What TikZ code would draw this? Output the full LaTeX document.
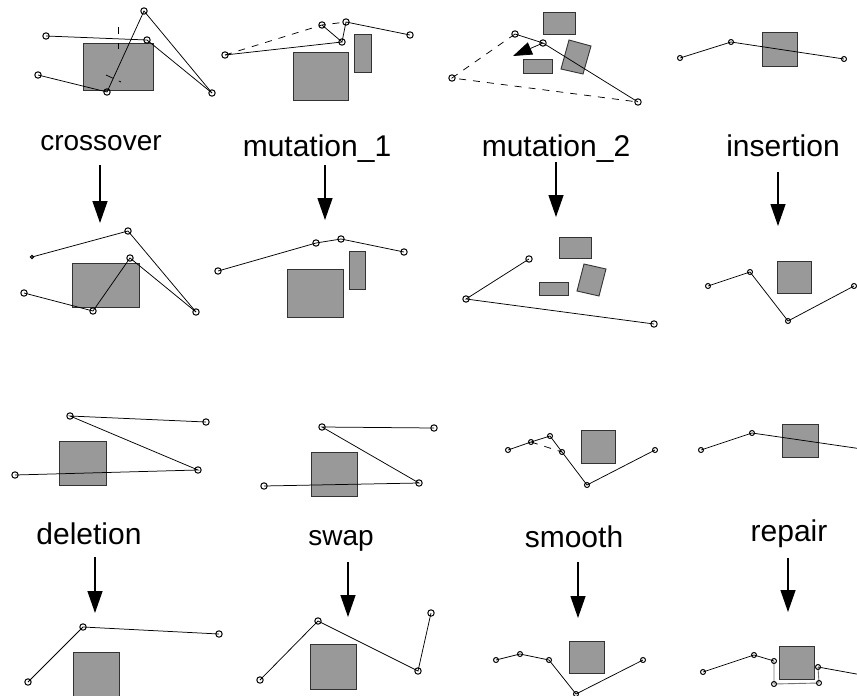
\documentclass[tikz,border=0pt]{standalone}
\usepackage{fontspec}
\setmainfont{Liberation Sans}
\usetikzlibrary{arrows.meta}

\begin{document}
\begin{tikzpicture}[x=1pt, y=-1pt,
  box/.style = {draw=black!80, fill=black!40, line width=0.9pt},
  path/.style = {line width=0.75pt},
  ring/.style = {line width=1pt},
  old/.style = {line width=0.75pt, dash pattern=on 7pt off 7pt},
  cut/.style = {line width=0.9pt, black!55},
  op/.style = {font=\fontsize{30}{30}\selectfont, anchor=base},
  down/.style = {line width=1.3pt, -{Triangle[length=22pt, width=15pt]}}]
\useasboundingbox (0,0) rectangle (857,696);
% crossover (before)
\coordinate (cA) at (46,36);
\coordinate (cB) at (147,40);
\coordinate (cC) at (144,11);
\coordinate (cD) at (38,75);
\coordinate (cE) at (107,92);
\coordinate (cF) at (212,93);
\draw[box] (83,43) rectangle (153,90);
\draw[path] (cA)--(cB)--(cF);
\draw[path] (cD)--(cE)--(cC)--(cF);
\draw[path, dash pattern=on 7pt off 9pt] (118,27)--(118,49);
\draw[path, dash pattern=on 8pt off 6pt] (106,75)--(121,82);
% mutation_1 (before)
\coordinate (mA) at (225,55);
\coordinate (mB) at (342,42);
\coordinate (mC) at (322,25);
\coordinate (mD) at (346,22);
\coordinate (mE) at (410,35);
\draw[box] (293,52) rectangle (348,100);
\draw[box] (354,34) rectangle (371,72);
\draw[old] (mA)--(mC)--(mD);
\draw[path] (mA)--(mB);
\draw[path] (mC)--(mB)--(mD)--(mE);
% mutation_2 (before)
\coordinate (nA) at (515,34);
\coordinate (nB) at (543,43);
\coordinate (nC) at (452,78);
\coordinate (nD) at (638,102);
\coordinate (nT) at (513,56);
\draw[box] (543,12) rectangle (575,34);
\draw[box] (523,59) rectangle (552,73);
\draw[box] (569,40)--(591,46)--(583,74)--(561,69)--cycle;
\draw[old] (nA)--(nC)--(nD);
\draw[path] (nA)--(nB)--(nD);
\draw[path, -{Triangle[length=19pt, width=13pt]}] (nB)--(nT);
% insertion (before)
\coordinate (iA) at (680,58);
\coordinate (iB) at (731,42);
\coordinate (iC) at (844,59);
\draw[box] (762,32) rectangle (797,66);
\draw[path] (iA)--(iB)--(iC);
% crossover (after)
\coordinate (dA) at (32,257);
\coordinate (dB) at (128,231);
\coordinate (dC) at (24,293);
\coordinate (dD) at (93,311);
\coordinate (dE) at (130,258);
\coordinate (dF) at (196,312);
\draw[box] (72,263) rectangle (139,307);
\draw[path] (dA)--(dB)--(dF);
\draw[path] (dC)--(dD)--(dE)--(dF);
% mutation_1 (after)
\coordinate (eA) at (218,271);
\coordinate (eB) at (316,243);
\coordinate (eC) at (341,239);
\coordinate (eD) at (404,252);
\draw[box] (287,269) rectangle (343,317);
\draw[box] (349,251) rectangle (365,289);
\draw[path] (eA)--(eB)--(eC)--(eD);
% mutation_2 (after)
\coordinate (fA) at (529,259);
\coordinate (fB) at (466,299);
\coordinate (fC) at (654,324);
\draw[box] (559,237) rectangle (591,258);
\draw[box] (539,282) rectangle (568,295);
\draw[box] (584,264)--(606,269)--(599,296)--(577,291)--cycle;
\draw[path] (fA)--(fB)--(fC);
% insertion (after)
\coordinate (gA) at (708,286);
\coordinate (gB) at (750,272);
\coordinate (gC) at (788,321);
\coordinate (gD) at (854,286);
\draw[box] (777,261) rectangle (811,293);
\draw[path] (gA)--(gB)--(gC)--(gD);
% deletion (before)
\coordinate (hA) at (70,416);
\coordinate (hB) at (206,422);
\coordinate (hC) at (198,470);
\coordinate (hD) at (15,475);
\draw[box] (59,441) rectangle (106,485);
\draw[path] (hB)--(hA)--(hC)--(hD);
% swap (before)
\coordinate (sA) at (322,427);
\coordinate (sB) at (434,428);
\coordinate (sC) at (419,483);
\coordinate (sD) at (264,486);
\draw[box] (311,452) rectangle (357,496);
\draw[path] (sB)--(sA)--(sC)--(sD);
% smooth (before)
\coordinate (tA) at (508,450);
\coordinate (tB) at (531,442);
\coordinate (tC) at (550,436);
\coordinate (tD) at (562,452);
\coordinate (tE) at (587,485);
\coordinate (tF) at (655,450);
\draw[box] (581,430) rectangle (615,463);
\draw[old] (tB)--(tD);
\draw[path] (tA)--(tB)--(tC)--(tD)--(tE)--(tF);
% repair (before)
\coordinate (uA) at (701,450);
\coordinate (uB) at (752,433);
\coordinate (uC) at (862,449);
\draw[box] (782,424) rectangle (818,457);
\draw[path] (uA)--(uB)--(uC);
% deletion (after)
\coordinate (vA) at (28,682);
\coordinate (vB) at (83,627);
\coordinate (vC) at (219,634);
\draw[box] (73,652) rectangle (119,702);
\draw[path] (vA)--(vB)--(vC);
% swap (after)
\coordinate (wA) at (260,680);
\coordinate (wB) at (318,621);
\coordinate (wC) at (418,671);
\coordinate (wD) at (431,613);
\draw[box] (310,644) rectangle (356,689);
\draw[path] (wA)--(wB)--(wC)--(wD);
% smooth (after)
\coordinate (xA) at (496,660);
\coordinate (xB) at (520,654);
\coordinate (xC) at (549,660);
\coordinate (xD) at (576,694);
\coordinate (xE) at (643,660);
\draw[box] (569,641) rectangle (604,673);
\draw[path] (xA)--(xB)--(xC)--(xD)--(xE);
% repair (after)
\coordinate (yA) at (703,672);
\coordinate (yB) at (754,655);
\coordinate (yC) at (774,661);
\coordinate (yD) at (774,684);
\coordinate (yE) at (819,683);
\coordinate (yF) at (818,667);
\coordinate (yG) at (862,675);
\draw[box] (779,646) rectangle (814,679);
\draw[cut] (yC)--(yD)--(yE)--(yF);
\draw[path] (yA)--(yB)--(yC);
\draw[path] (yF)--(yG);
% vertices
\foreach \p in {cA,cB,cC,cD,cE,cF,mA,mB,mC,mD,mE,nA,nB,nC,nD,dB,dC,dD,dE,dF,
  eA,eB,eC,eD,fA,fB,fC,hA,hB,hC,hD,sA,sB,sC,sD,vA,vB,vC,wA,wB,wC,wD}
  \draw[ring] (\p) circle (3.2);
\foreach \p in {iA,iB,iC,gA,gB,gC,gD,tA,tB,tC,tD,tE,tF,uA,uB,xA,xB,xC,xD,xE,
  yA,yB,yC,yD,yE,yF}
  \draw[ring] (\p) circle (2.5);
\draw[ring] (dA) circle (1.6);
% operator names and arrows
\node[op, font=\fontsize{28}{28}\selectfont] (crossover) at (101,150) {crossover};
\node[op] (mut1) at (317,156) {mutation\_1};
\node[op] (mut2) at (556,156) {mutation\_2};
\node[op] (insertion) at (783,156) {insertion};
\node[op] (deletion) at (89,544) {deletion};
\node[op, font=\fontsize{28}{28}\selectfont] (swap) at (341,545) {swap};
\node[op] (smooth) at (574,547) {smooth};
\node[op] (repair) at (789,541) {repair};
\coordinate (b1) at (100,165);
\coordinate (b2) at (325,165);
\coordinate (b3) at (556,162);
\coordinate (b4) at (778,172);
\coordinate (b5) at (95,557);
\coordinate (b6) at (348,562);
\coordinate (b7) at (578,562);
\coordinate (b8) at (788,558);
\coordinate (a1) at (100,223);
\coordinate (a2) at (325,220);
\coordinate (a3) at (556,217);
\coordinate (a4) at (778,226);
\coordinate (a5) at (95,613);
\coordinate (a6) at (348,617);
\coordinate (a7) at (578,618);
\coordinate (a8) at (788,612);
\foreach \i in {1,...,8}
  \draw[down] (b\i) -- (a\i);
\end{tikzpicture}
\end{document}
